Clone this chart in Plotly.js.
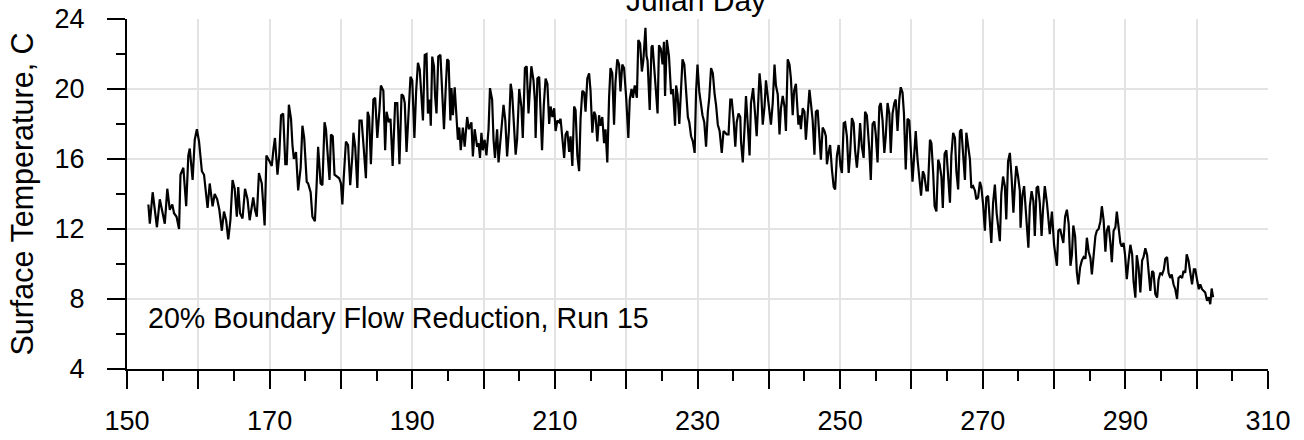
<!DOCTYPE html>
<html>
<head>
<meta charset="utf-8">
<script src="https://cdn.plot.ly/plotly-3.0.1.min.js"></script>
<style>
  html, body { margin: 0; padding: 0; background: #ffffff; }
  #chart { width: 1304px; height: 440px; }
</style>
</head>
<body>
<div id="chart"></div>
<script>
// ---- Data (Julian day, surface temperature in C) ----
const julianDay = [
  153.0,153.2,153.6,154.2,154.6,154.9,155.3,155.65,156.0,156.35,156.6,156.95,157.3,157.5,157.9,158.3,158.6,158.8,159.2,159.5,159.8,
  160.1,160.5,160.8,161.0,161.3,161.6,162.0,162.3,162.65,162.95,163.3,163.6,163.9,164.2,164.5,164.8,165.1,165.4,165.6,165.85,
  166.2,166.55,166.9,167.2,167.7,167.95,168.2,168.5,168.9,169.3,169.55,169.95,170.3,170.55,170.75,171.1,171.35,171.6,171.9,
  172.2,172.4,172.7,173.0,173.2,173.4,173.7,174.0,174.35,174.6,174.85,175.2,175.4,175.75,176.0,176.35,176.6,176.8,177.15,177.4,
  177.7,177.9,178.1,178.4,178.6,178.85,179.1,179.4,179.75,180.0,180.2,180.4,180.7,181.0,181.3,181.6,181.75,182.0,182.3,182.6,
  182.9,183.2,183.5,183.75,183.95,184.2,184.55,184.8,185.1,185.4,185.6,185.95,186.2,186.4,186.7,186.95,187.25,187.6,187.9,188.2,
  188.5,188.75,188.95,189.2,189.45,189.75,190.0,190.3,190.55,190.8,191.05,191.3,191.5,191.75,192.0,192.2,192.45,192.6,192.8,193.05,
  193.2,193.4,193.65,193.95,194.2,194.45,194.7,194.9,195.1,195.35,195.5,195.7,195.95,196.15,196.4,196.6,196.8,197.1,197.35,197.7,
  197.95,198.3,198.5,198.75,199.1,199.3,199.5,199.7,199.9,200.15,200.4,200.7,200.9,201.2,201.4,201.6,201.9,202.1,202.5,202.8,
  203.05,203.3,203.55,203.8,204.0,204.25,204.5,204.7,205.0,205.3,205.5,205.8,206.05,206.3,206.7,207.0,207.2,207.3,207.55,207.8,
  208.0,208.2,208.45,208.7,208.95,209.2,209.4,209.65,209.9,210.1,210.35,210.6,210.8,211.05,211.3,211.5,211.75,212.0,212.2,212.45,
  212.7,212.9,213.15,213.4,213.6,213.85,214.1,214.3,214.55,214.8,215.0,215.25,215.5,215.7,215.95,216.2,216.4,216.65,216.9,217.1,
  217.35,217.6,217.8,218.05,218.3,218.5,218.75,219.0,219.2,219.45,219.7,220.0,220.3,220.5,220.75,220.95,221.2,221.5,221.7,221.95,
  222.2,222.4,222.7,222.85,223.0,223.3,223.55,223.7,223.9,224.15,224.4,224.6,224.85,225.1,225.3,225.45,225.7,226.0,226.3,226.55,
  226.85,227.0,227.2,227.45,227.7,227.9,228.15,228.4,228.65,228.85,229.1,229.35,229.6,229.8,230.0,230.25,230.5,230.7,230.95,231.2,
  231.45,231.65,231.9,232.15,232.4,232.6,232.85,233.1,233.4,233.65,233.9,234.1,234.35,234.6,234.8,235.05,235.3,235.5,235.75,236.0,
  236.1,236.35,236.6,236.8,237.05,237.3,237.5,237.8,238.05,238.3,238.7,238.9,239.15,239.4,239.6,239.85,240.1,240.3,240.55,240.8,
  241.0,241.25,241.5,241.7,241.95,242.2,242.4,242.65,242.9,243.1,243.35,243.55,243.8,244.0,244.15,244.35,244.5,244.75,245.0,245.2,
  245.45,245.7,245.9,246.15,246.4,246.6,246.85,247.05,247.3,247.55,247.8,248.0,248.15,248.4,248.6,248.85,249.1,249.3,249.55,249.8,
  250.05,250.25,250.5,250.7,250.95,251.2,251.4,251.65,251.9,252.1,252.35,252.6,252.8,253.05,253.3,253.5,253.75,254.1,254.3,254.55,
  254.8,255.0,255.25,255.5,255.7,255.95,256.2,256.4,256.65,256.9,257.1,257.35,257.6,257.8,258.05,258.3,258.5,258.75,258.95,259.2,
  259.45,259.7,259.95,260.15,260.4,260.6,260.85,261.1,261.35,261.6,261.8,262.1,262.3,262.6,262.8,263.05,263.25,263.5,263.75,263.95,
  264.2,264.4,264.65,264.9,265.15,265.4,265.6,265.85,266.1,266.3,266.55,266.8,267.0,267.25,267.5,267.7,267.95,268.2,268.4,268.65,
  268.9,269.1,269.35,269.6,269.8,270.05,270.3,270.5,270.75,271.0,271.2,271.45,271.7,271.95,272.2,272.4,272.6,272.85,273.1,273.3,
  273.55,273.8,274.05,274.3,274.5,274.7,274.95,275.2,275.3,275.55,275.8,276.05,276.4,276.6,276.85,277.1,277.3,277.55,277.75,278.0,
  278.25,278.45,278.7,279.0,279.4,279.7,280.0,280.4,280.6,280.85,281.1,281.3,281.55,281.8,282.05,282.3,282.5,282.7,282.95,283.2,
  283.4,283.65,283.9,284.15,284.4,284.6,284.85,285.1,285.3,285.55,285.8,286.0,286.25,286.5,286.7,286.95,287.2,287.4,287.65,287.9,
  288.1,288.35,288.6,288.8,289.05,289.3,289.5,289.75,289.95,290.2,290.45,290.7,290.95,291.15,291.4,291.6,291.85,292.1,292.35,292.55,
  292.8,293.05,293.25,293.5,293.75,293.95,294.2,294.45,294.65,294.9,295.15,295.4,295.6,295.85,296.05,296.3,296.5,296.75,297.0,297.25,
  297.45,297.7,297.95,298.15,298.4,298.6,298.85,299.1,299.35,299.6,299.8,300.05,300.3,300.5,300.75,301.0,301.2,301.45,301.7,301.9,
  302.1,302.3
];
const surfaceTempC = [
  13.4,12.3,14.1,12.1,13.7,13.1,12.3,14.3,13.1,13.4,12.9,12.7,12.0,15.1,15.5,13.3,16.2,16.6,14.8,17.1,17.7,
  17.0,15.3,15.1,14.2,13.2,14.6,13.3,14.0,13.7,13.1,11.9,13.0,12.5,11.4,12.5,14.8,14.3,12.7,14.4,12.9,
  12.6,14.3,13.7,12.5,13.8,13.1,12.7,15.2,14.6,12.2,16.2,15.9,15.6,16.6,17.2,15.1,16.2,18.5,18.6,
  15.7,15.7,19.1,18.3,16.8,16.0,16.4,14.2,15.5,17.9,17.2,14.7,14.6,14.1,12.7,12.45,14.6,16.7,14.6,14.5,
  18.1,17.7,16.5,14.8,17.4,17.3,15.1,15.0,14.9,14.6,13.4,15.0,17.0,16.8,14.5,16.2,17.5,16.7,14.35,18.2,
  18.2,16.6,14.9,18.7,18.4,15.7,19.4,19.5,17.2,18.8,20.2,19.9,16.5,18.7,18.1,18.3,15.6,19.2,19.2,15.7,
  19.7,19.6,19.2,16.4,18.6,20.7,20.5,17.2,19.9,21.5,21.1,19.1,18.2,21.95,22.0,18.6,19.4,17.9,21.85,21.3,
  19.6,18.6,21.85,21.95,19.6,17.7,20.1,21.7,21.6,18.2,20.05,18.5,20.1,18.8,17.1,17.8,16.5,17.8,16.7,18.4,
  17.7,18.1,16.15,17.7,16.7,16.9,16.06,17.5,16.5,17.1,16.2,17.7,20.05,19.4,17.1,16.06,17.7,15.8,17.7,19.1,
  18.2,16.15,17.6,20.3,19.8,18.1,16.25,17.1,20.0,19.0,17.2,21.2,21.3,18.6,21.3,20.5,19.3,17.2,20.6,20.7,
  18.2,16.5,19.1,20.6,20.3,18.0,19.0,18.4,18.9,17.6,18.2,18.1,18.3,17.0,16.06,17.4,17.6,16.4,17.3,15.6,
  19.0,18.8,16.2,15.3,18.3,19.9,19.8,18.7,20.6,20.9,19.9,17.5,18.7,18.5,17.0,18.5,17.9,18.4,16.9,17.7,
  15.8,19.5,21.2,20.9,17.96,20.4,21.7,21.4,19.86,21.4,21.2,19.5,17.2,19.4,20.0,19.5,20.2,19.5,22.8,22.6,
  21.0,21.6,23.5,21.9,21.6,18.8,22.4,22.5,21.3,19.9,18.6,22.5,22.3,21.4,22.7,19.6,22.8,21.9,19.7,20.0,
  17.9,20.2,19.7,18.0,20.6,21.7,21.4,19.7,18.4,18.1,17.3,17.0,16.35,19.85,21.4,19.85,19.1,18.5,18.1,16.7,
  18.7,19.5,21.2,20.9,19.7,19.1,17.96,17.6,16.35,17.6,17.5,17.4,17.4,19.4,19.4,18.3,16.7,18.1,18.6,18.4,
  17.0,15.8,17.8,19.6,17.96,16.2,19.2,20.05,18.7,17.3,20.9,20.05,17.96,19.0,20.5,19.7,18.7,17.96,19.2,21.4,
  20.2,19.7,17.4,18.9,19.6,19.0,17.6,21.7,21.4,20.6,18.5,19.9,20.3,18.5,17.96,18.5,17.7,18.9,18.7,17.1,
  18.9,19.95,19.2,18.2,16.25,18.7,18.8,17.6,15.96,17.8,17.6,17.3,15.7,16.4,16.8,15.4,14.4,14.26,16.2,16.8,
  15.6,15.2,18.05,18.1,17.3,15.2,16.3,18.34,18.05,16.5,15.5,16.7,18.05,16.7,16.06,18.7,18.5,16.5,14.8,18.0,
  18.15,17.4,15.8,19.0,19.2,18.2,16.35,17.3,19.2,18.6,16.35,18.6,19.2,19.4,17.6,19.4,20.1,19.8,18.6,15.4,
  18.3,18.2,16.2,14.7,16.3,17.6,16.0,14.8,13.9,15.3,15.1,14.2,14.2,17.1,16.9,15.2,13.3,13.0,15.96,15.7,
  15.0,13.2,16.3,16.5,15.0,13.5,16.2,17.5,17.2,15.3,14.26,17.58,17.7,16.5,14.8,17.5,16.8,16.0,14.35,14.45,
  14.2,13.7,13.8,14.7,14.4,13.4,11.9,13.8,13.9,12.5,11.2,13.5,14.54,12.9,11.9,11.3,14.0,15.0,14.45,12.55,
  15.87,16.35,14.9,12.93,14.45,15.6,15.0,14.2,12.07,13.9,14.45,12.7,10.93,13.3,14.16,13.6,11.6,14.35,14.45,13.5,
  11.6,13.1,14.45,13.5,11.7,13.0,11.1,9.9,11.9,12.0,11.5,11.2,12.7,13.1,12.3,9.9,10.5,12.2,11.6,9.5,
  8.84,9.8,10.2,10.4,10.3,11.5,10.7,10.35,9.4,10.5,11.6,11.9,12.0,12.45,13.3,12.5,10.7,11.9,12.2,11.2,
  10.1,11.9,12.1,13.0,12.2,11.2,11.0,11.2,10.55,9.13,10.2,11.1,10.55,9.0,8.08,10.5,9.8,8.37,10.2,10.4,
  10.9,10.5,9.6,8.46,9.6,9.5,8.27,8.08,9.1,9.5,9.4,9.7,10.3,10.4,9.5,9.2,9.4,8.84,8.56,8.0,
  9.2,9.3,9.2,9.6,9.5,10.55,10.2,9.5,8.84,9.7,9.7,9.1,8.56,8.84,8.56,8.46,8.37,7.9,8.1,7.7,
  8.6,8.1
];

// ---- Axis ticks and labels ----
const xTickVals = [150,160,170,180,190,200,210,220,230,240,250,260,270,280,290,300,310];
const xTickText = ['150','','170','','190','','210','','230','','250','','270','','290','','310'];
const yTickVals = [4,8,12,16,20,24];
const yTickText = ['4','8','12','16','20','24'];
const xAxisTitle = 'Julian Day';
const yAxisTitle = 'Surface Temperature, C';
const runLabel = '20% Boundary Flow Reduction, Run 15';

const FONT = '"Liberation Sans", Arial, sans-serif';

const trace = {
  x: julianDay,
  y: surfaceTempC,
  type: 'scatter',
  mode: 'lines',
  line: { color: '#000000', width: 2.2 },
  hoverinfo: 'skip',
  showlegend: false
};

const layout = {
  width: 1304,
  height: 440,
  margin: { l: 127, r: 36, t: 19, b: 71, pad: 0 },
  paper_bgcolor: '#ffffff',
  plot_bgcolor: '#ffffff',
  showlegend: false,
  font: { family: FONT, color: '#000000', size: 27 },
  xaxis: {
    range: [150, 310],
    tickmode: 'array',
    tickvals: xTickVals,
    ticktext: xTickText,
    ticks: 'outside',
    ticklen: 18,
    tickwidth: 2,
    tickcolor: '#000000',
    ticklabelstandoff: 9,
    tickfont: { family: FONT, size: 27, color: '#000000' },
    showline: true,
    linecolor: '#000000',
    linewidth: 2,
    showgrid: true,
    gridcolor: '#e3e3e3',
    gridwidth: 2,
    zeroline: false,
    minor: { dtick: 5, tick0: 150, ticks: 'outside', ticklen: 10, tickwidth: 2, tickcolor: '#000000', showgrid: false }
  },
  yaxis: {
    range: [4, 24],
    tickmode: 'array',
    tickvals: yTickVals,
    ticktext: yTickText,
    ticks: 'outside',
    ticklen: 18,
    tickwidth: 2,
    tickcolor: '#000000',
    ticklabelstandoff: 17,
    tickfont: { family: FONT, size: 27, color: '#000000' },
    showline: true,
    linecolor: '#000000',
    linewidth: 2,
    showgrid: true,
    gridcolor: '#e3e3e3',
    gridwidth: 2,
    zeroline: false,
    title: { text: yAxisTitle, font: { family: FONT, size: 30.5, color: '#000000' }, standoff: 12 },
    minor: { dtick: 2, tick0: 4, ticks: 'outside', ticklen: 9, tickwidth: 2, tickcolor: '#000000', showgrid: false }
  },
  annotations: [
    {
      text: xAxisTitle,
      xref: 'paper', yref: 'paper',
      x: 0.4985, y: 1.054,
      xanchor: 'center', yanchor: 'middle',
      showarrow: false,
      font: { family: FONT, size: 30, color: '#000000' }
    },
    {
      text: runLabel,
      xref: 'x', yref: 'y',
      x: 152.7, y: 6.9,
      xanchor: 'left', yanchor: 'middle',
      showarrow: false,
      font: { family: FONT, size: 28.6, color: '#000000' }
    }
  ]
};

Plotly.newPlot('chart', [trace], layout, { displayModeBar: false, staticPlot: true });
</script>
</body>
</html>
